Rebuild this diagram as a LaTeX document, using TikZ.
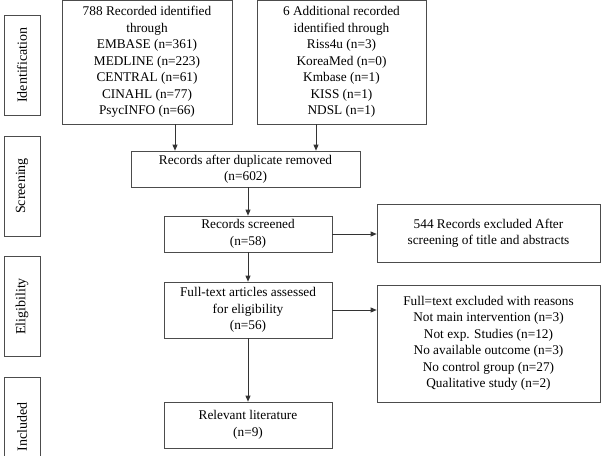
\documentclass[tikz,border=0pt]{standalone}
\usepackage{fontspec}
\setmainfont{Liberation Serif}
\usepackage{tikz}
\usetikzlibrary{arrows.meta,positioning}

\tikzset{box/.style={draw=black!70,line width=0.7pt,align=center,inner sep=0pt,font=\fontsize{13.3}{16.5}\selectfont},
stage/.style={box,minimum width=36pt,minimum height=100pt,font=\fontsize{14}{16}\selectfont},
arr/.style={-{Triangle[length=6pt,width=5pt]},black!80,line width=0.7pt}}

\begin{document}
\begin{tikzpicture}[x=1pt,y=-1pt]
\clip(0,0)rectangle(610,455);
\useasboundingbox(0,0)rectangle(610,455);
% stage labels
\node[stage](ident)at(22,65){\rotatebox{90}{Identification}};
\node[stage](screen)at(22,186){\rotatebox{90}{Screening}};
\node[stage](elig)at(22,306.5){\rotatebox{90}{Eligibility}};
\node[stage](incl)at(22,427){\rotatebox{90}{Included}};
% flow boxes
\node[box,minimum width=170pt,minimum height=123.5pt](recdb)at(147,62.25){788 Recorded identified\\through\\EMBASE (n=361)\\MEDLINE (n=223)\\CENTRAL (n=61)\\CINAHL (n=77)\\PsycINFO (n=66)};
\node[box,minimum width=169pt,minimum height=123.5pt](recadd)at(341.5,62.25){6 Additional recorded\\identified through\\Riss4u (n=3)\\KoreaMed (n=0)\\Kmbase (n=1)\\KISS (n=1)\\NDSL (n=1)};
\node[box,minimum width=229pt,minimum height=36pt](dup)at(245.5,169){Records after duplicate removed\\(n=602)};
\node[box,minimum width=168pt,minimum height=36pt](screened)at(248,234){Records screened\\(n=58)};
\node[box,minimum width=168pt,minimum height=56pt](fulltext)at(248,310){Full-text articles assessed\\for eligibility\\(n=56)};
\node[box,minimum width=168pt,minimum height=46pt](relevant)at(248,425){Relevant literature\\(n=9)};
\node[box,minimum width=223pt,minimum height=58pt](excl)at(488.5,233){544 Records excluded After\\screening of title and abstracts};
\node[box,minimum width=223pt,minimum height=117pt](exclreason)at(488.5,343.5){Full=text excluded with reasons\\Not main intervention (n=3)\\Not exp. Studies (n=12)\\No available outcome (n=3)\\No control group (n=27)\\Qualitative study (n=2)};
% connectors
\coordinate(c1)at(175,0);
\coordinate(c2)at(316,0);
\draw[arr](recdb.south-|c1)--(dup.north-|c1);
\draw[arr](recadd.south-|c2)--(dup.north-|c2);
\draw[arr](dup.south-|screened)--(screened.north);
\draw[arr](screened)--(fulltext);
\draw[arr](fulltext)--(relevant);
\draw[arr](screened.east)--(screened.east-|excl.west);
\draw[arr](fulltext.east)--(fulltext.east-|exclreason.west);
\end{tikzpicture}
\end{document}
